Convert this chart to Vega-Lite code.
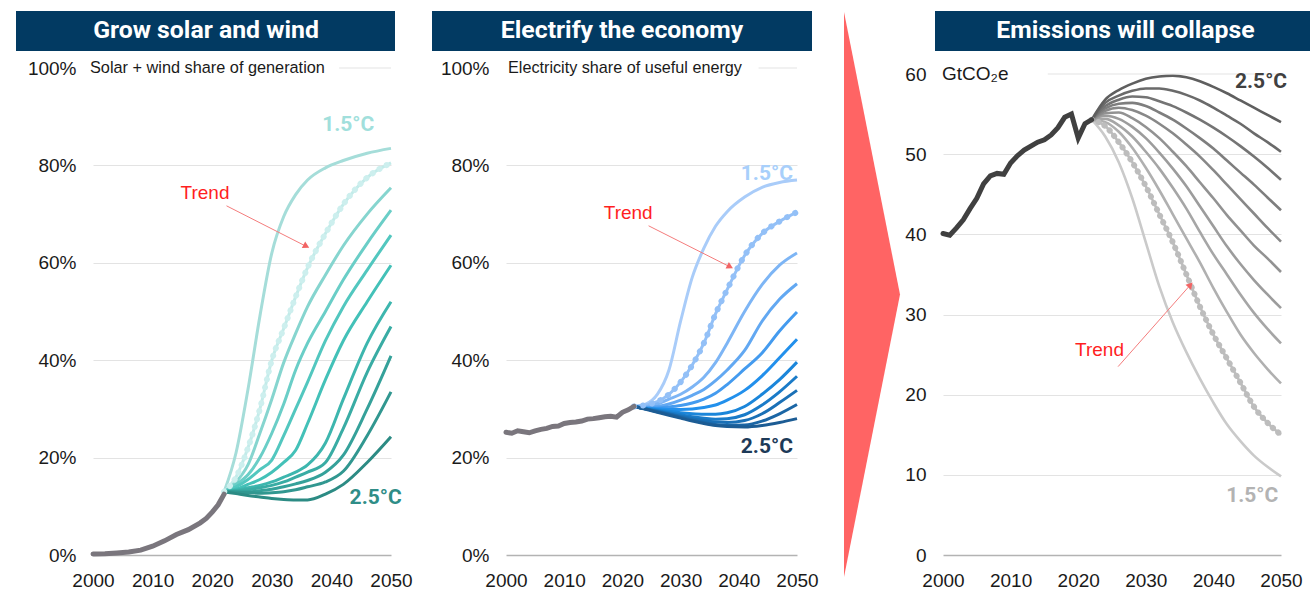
{
"$schema": "https://vega.github.io/schema/vega-lite/v6.json",
"padding": {"left": 16, "top": 11, "right": 0, "bottom": 0},
"background": "white",
"config": {"view": {"stroke": null}, "font": "Liberation Sans"},
"datasets": {
"tri": [{"t": 0, "lo": 0, "hi": 1}, {"t": 1, "lo": 0.5, "hi": 0.5}],
"s1": [
{"yr":2022,"c15":13,"trend":13,"c17":13,"c18":13,"c19":13,"c20":13,"c21":13,"c22":13,"c23":13,"c24":13,"c25":13},
{"yr":2024,"c15":21,"trend":16,"c17":15,"c18":14.5,"c19":14,"c20":13.5,"c21":13.3,"c22":13.2,"c23":13,"c24":12.9,"c25":12.6},
{"yr":2026,"c15":34,"trend":22,"c17":18.5,"c18":16.5,"c19":15.5,"c20":14.5,"c21":13.8,"c22":13.4,"c23":13,"c24":12.8,"c25":12.2},
{"yr":2028,"c15":49,"trend":30,"c17":25,"c18":20,"c19":17.5,"c20":15.5,"c21":14.3,"c22":13.8,"c23":13.2,"c24":12.7,"c25":11.9},
{"yr":2030,"c15":62,"trend":40,"c17":32,"c18":25,"c19":19.5,"c20":17,"c21":15,"c22":14.3,"c23":13.5,"c24":12.8,"c25":11.6},
{"yr":2032,"c15":69.5,"trend":46.5,"c17":39.5,"c18":31,"c19":24.5,"c20":19,"c21":16,"c22":15,"c23":14,"c24":13,"c25":11.4},
{"yr":2034,"c15":74,"trend":53,"c17":45.5,"c18":38,"c19":30,"c20":21.5,"c21":17,"c22":16,"c23":14.6,"c24":13.4,"c25":11.3},
{"yr":2036,"c15":77,"trend":59,"c17":51,"c18":43.5,"c19":35.5,"c20":27,"c21":18.5,"c22":17,"c23":15.3,"c24":14,"c25":11.3},
{"yr":2039,"c15":79.5,"trend":66,"c17":57.5,"c18":50,"c19":44,"c20":36,"c21":23,"c22":19,"c23":17,"c24":15,"c25":12.5},
{"yr":2042,"c15":81,"trend":72,"c17":63.5,"c18":56.5,"c19":51,"c20":44,"c21":32,"c22":26,"c23":20.5,"c24":17.2,"c25":14.5},
{"yr":2046,"c15":82.5,"trend":77.5,"c17":70,"c18":64,"c19":58.5,"c20":52,"c21":43.5,"c22":37.5,"c23":30,"c24":24.5,"c25":19},
{"yr":2050,"c15":83.5,"trend":80.5,"c17":75.4,"c18":70.8,"c19":65.7,"c20":59.5,"c21":52,"c22":46.9,"c23":40.9,"c24":33.5,"c25":24.3}
],
"h1": [{"yr":2000,"v":0.2},{"yr":2002,"v":0.25},{"yr":2004,"v":0.4},{"yr":2006,"v":0.6},{"yr":2008,"v":1.0},{"yr":2010,"v":1.8},{"yr":2012,"v":2.9},{"yr":2014,"v":4.2},{"yr":2016,"v":5.2},{"yr":2018,"v":6.6},{"yr":2019,"v":7.5},{"yr":2020,"v":8.8},{"yr":2021,"v":10.3},{"yr":2022,"v":12.5}],
"s2": [
{"yr":2022,"c15":30.5,"trend":30.5,"c17":30.5,"c18":30.5,"c19":30.5,"c20":30.5,"c21":30.5,"c22":30.5,"c23":30.5,"c24":30.5,"c25":30.5},
{"yr":2024,"c15":31,"trend":30.8,"c17":30.5,"c18":30.3,"c19":30.2,"c20":30.1,"c21":30.1,"c22":30,"c23":30,"c24":30,"c25":29.9},
{"yr":2026,"c15":33,"trend":31.5,"c17":31,"c18":30.5,"c19":30.2,"c20":30,"c21":29.8,"c22":29.6,"c23":29.5,"c24":29.4,"c25":29.3},
{"yr":2028,"c15":38,"trend":33,"c17":32,"c18":31,"c19":30.4,"c20":29.9,"c21":29.5,"c22":29.2,"c23":29,"c24":28.9,"c25":28.7},
{"yr":2030,"c15":48,"trend":35.5,"c17":33,"c18":31.8,"c19":30.7,"c20":29.9,"c21":29.2,"c22":28.8,"c23":28.5,"c24":28.3,"c25":28.1},
{"yr":2032,"c15":57,"trend":39,"c17":34.5,"c18":32.8,"c19":31.2,"c20":30,"c21":29,"c22":28.4,"c23":28,"c24":27.7,"c25":27.5},
{"yr":2034,"c15":63,"trend":43.5,"c17":36.5,"c18":34,"c19":32,"c20":30.3,"c21":28.9,"c22":28.1,"c23":27.6,"c24":27.2,"c25":27},
{"yr":2036,"c15":67.5,"trend":49.5,"c17":39.5,"c18":35.8,"c19":33.2,"c20":30.8,"c21":28.9,"c22":27.9,"c23":27.3,"c24":26.8,"c25":26.6},
{"yr":2038,"c15":70.5,"trend":54.5,"c17":43.5,"c18":38,"c19":35,"c20":31.8,"c21":29.2,"c22":28,"c23":27.2,"c24":26.6,"c25":26.4},
{"yr":2041,"c15":73.5,"trend":61.5,"c17":50,"c18":42,"c19":38.2,"c20":33.8,"c21":30.5,"c22":28.8,"c23":27.6,"c24":26.7,"c25":26.3},
{"yr":2044,"c15":75.5,"trend":66,"c17":55.5,"c18":48,"c19":41.5,"c20":36.8,"c21":33,"c22":30.8,"c23":29,"c24":27.5,"c25":26.6},
{"yr":2047,"c15":76.5,"trend":68.5,"c17":59.5,"c18":52.5,"c19":46,"c20":40.5,"c21":36,"c22":33.5,"c23":31.3,"c24":29,"c25":27.2},
{"yr":2050,"c15":77,"trend":70.4,"c17":62,"c18":55.7,"c19":49.9,"c20":44.3,"c21":39.6,"c22":36.7,"c23":33.8,"c24":30.9,"c25":28}
],
"h2": [{"yr":2000,"v":25.2},{"yr":2001,"v":25.0},{"yr":2002,"v":25.5},{"yr":2003,"v":25.3},{"yr":2004,"v":25.1},{"yr":2005,"v":25.5},{"yr":2006,"v":25.8},{"yr":2007,"v":26.0},{"yr":2008,"v":26.4},{"yr":2009,"v":26.5},{"yr":2010,"v":27.0},{"yr":2011,"v":27.2},{"yr":2012,"v":27.3},{"yr":2013,"v":27.5},{"yr":2014,"v":27.9},{"yr":2015,"v":28.0},{"yr":2016,"v":28.2},{"yr":2017,"v":28.4},{"yr":2018,"v":28.5},{"yr":2019,"v":28.3},{"yr":2020,"v":29.3},{"yr":2021,"v":29.8},{"yr":2022,"v":30.5}],
"s3": [
{"yr":2022,"c15":54.3,"trend":54.3,"c17":54.3,"c18":54.3,"c19":54.3,"c20":54.3,"c21":54.3,"c22":54.3,"c23":54.3,"c24":54.3,"c25":54.3},
{"yr":2024,"c15":52.2,"trend":53.5,"c17":54.0,"c18":54.4,"c19":54.8,"c20":55.1,"c21":55.4,"c22":55.7,"c23":56.0,"c24":56.4,"c25":56.8},
{"yr":2026,"c15":49.0,"trend":51.5,"c17":52.8,"c18":53.6,"c19":54.4,"c20":55.2,"c21":55.8,"c22":56.3,"c23":56.8,"c24":57.3,"c25":58.0},
{"yr":2028,"c15":44.5,"trend":49.0,"c17":50.8,"c18":52.2,"c19":53.4,"c20":54.5,"c21":55.5,"c22":56.4,"c23":57.2,"c24":57.9,"c25":58.8},
{"yr":2030,"c15":39.0,"trend":46.0,"c17":48.3,"c18":50.3,"c19":52.0,"c20":53.4,"c21":54.8,"c22":56.0,"c23":57.1,"c24":58.2,"c25":59.4},
{"yr":2032,"c15":33.5,"trend":42.5,"c17":45.5,"c18":48.2,"c19":50.2,"c20":52.0,"c21":53.8,"c22":55.2,"c23":56.6,"c24":58.2,"c25":59.7},
{"yr":2034,"c15":29.0,"trend":39.0,"c17":42.5,"c18":45.8,"c19":48.2,"c20":50.3,"c21":52.6,"c22":54.3,"c23":56.0,"c24":57.9,"c25":59.8},
{"yr":2036,"c15":25.3,"trend":35.0,"c17":39.5,"c18":43.2,"c19":46.0,"c20":48.5,"c21":51.2,"c22":53.2,"c23":55.2,"c24":57.4,"c25":59.6},
{"yr":2038,"c15":22.0,"trend":31.0,"c17":36.5,"c18":40.3,"c19":43.5,"c20":46.5,"c21":49.7,"c22":52.0,"c23":54.3,"c24":56.7,"c25":59.1},
{"yr":2040,"c15":19.0,"trend":27.5,"c17":33.3,"c18":37.5,"c19":41.0,"c20":44.5,"c21":48.0,"c22":50.7,"c23":53.3,"c24":55.8,"c25":58.4},
{"yr":2042,"c15":16.3,"trend":24.5,"c17":30.3,"c18":35.0,"c19":38.5,"c20":42.4,"c21":46.2,"c22":49.2,"c23":52.2,"c24":54.8,"c25":57.6},
{"yr":2044,"c15":14.2,"trend":21.5,"c17":27.5,"c18":32.5,"c19":36.3,"c20":40.5,"c21":44.4,"c22":47.7,"c23":51.0,"c24":53.8,"c25":56.7},
{"yr":2046,"c15":12.4,"trend":18.5,"c17":25.2,"c18":30.2,"c19":34.3,"c20":38.6,"c21":42.6,"c22":46.2,"c23":49.7,"c24":52.6,"c25":55.8},
{"yr":2048,"c15":11.0,"trend":16.5,"c17":23.2,"c18":28.2,"c19":32.5,"c20":37.0,"c21":40.8,"c22":44.6,"c23":48.3,"c24":51.5,"c25":54.9},
{"yr":2050,"c15":9.8,"trend":15.0,"c17":21.4,"c18":26.4,"c19":30.8,"c20":35.3,"c21":39.1,"c22":43.0,"c23":46.8,"c24":50.3,"c25":54.0}
],
"h3": [{"yr":2000,"v":40.1},{"yr":2001,"v":39.9},{"yr":2002,"v":40.8},{"yr":2003,"v":41.8},{"yr":2004,"v":43.2},{"yr":2005,"v":44.5},{"yr":2006,"v":46.3},{"yr":2007,"v":47.3},{"yr":2008,"v":47.6},{"yr":2009,"v":47.5},{"yr":2010,"v":48.9},{"yr":2011,"v":49.8},{"yr":2012,"v":50.5},{"yr":2013,"v":51.0},{"yr":2014,"v":51.5},{"yr":2015,"v":51.8},{"yr":2016,"v":52.4},{"yr":2017,"v":53.3},{"yr":2018,"v":54.6},{"yr":2019,"v":55.0},{"yr":2020,"v":52.0},{"yr":2021,"v":53.8},{"yr":2022,"v":54.3}]
},
"columns": 13,
"align": "each",
"bounds": "flush",
"spacing": {"row": 17, "column": 0},
"resolve": {"scale": {"color": "independent"}},
"concat": [
{"width": 77, "height": 40, "data": {"values": [{}]}, "mark": {"type": "rect", "color": "#023A62"}, "encoding": {}},
{"width": 298, "height": 40, "data": {"values": [{}]},
 "layer": [
  {"mark": {"type": "rect", "color": "#023A62"}, "encoding": {}},
  {"mark": {"type": "text", "text": "Grow solar and wind", "color": "white", "font": "Roboto", "fontWeight": "bold", "fontSize": 24.8, "dx": -36}, "encoding": {}}
 ]},
{"width": 4, "height": 40, "data": {"values": [{}]}, "mark": {"type": "rect", "color": "#023A62"}, "encoding": {}},
{"width": 37, "height": 40, "data": {"values": [{}]}, "mark": {"type": "rect", "opacity": 0}, "encoding": {}},
{"width": 74, "height": 40, "data": {"values": [{}]}, "mark": {"type": "rect", "color": "#023A62"}, "encoding": {}},
{"width": 291, "height": 40, "data": {"values": [{}]},
 "layer": [
  {"mark": {"type": "rect", "color": "#023A62"}, "encoding": {}},
  {"mark": {"type": "text", "text": "Electrify the economy", "color": "white", "font": "Roboto", "fontWeight": "bold", "fontSize": 24.8, "dx": -29.5}, "encoding": {}}
 ]},
{"width": 15, "height": 40, "data": {"values": [{}]}, "mark": {"type": "rect", "color": "#023A62"}, "encoding": {}},
{"width": 32, "height": 40, "data": {"values": [{}]}, "mark": {"type": "rect", "opacity": 0}, "encoding": {}},
{"width": 56, "height": 40, "data": {"values": [{}]}, "mark": {"type": "rect", "opacity": 0}, "encoding": {}},
{"width": 35, "height": 40, "data": {"values": [{}]}, "mark": {"type": "rect", "opacity": 0}, "encoding": {}},
{"width": 8, "height": 40, "data": {"values": [{}]}, "mark": {"type": "rect", "color": "#023A62"}, "encoding": {}},
{"width": 338, "height": 40, "data": {"values": [{}]},
 "layer": [
  {"mark": {"type": "rect", "color": "#023A62"}, "encoding": {}},
  {"mark": {"type": "text", "text": "Emissions will collapse", "color": "white", "font": "Roboto", "fontWeight": "bold", "fontSize": 24.8, "dx": 13.5}, "encoding": {}}
 ]},
{"width": 29, "height": 40, "data": {"values": [{}]}, "mark": {"type": "rect", "color": "#023A62"}, "encoding": {}},

{"width": 77, "height": 487, "data": {"values": [{}]}, "mark": {"type": "rect", "opacity": 0}, "encoding": {}},
{"width": 298, "height": 487,
 "layer": [
  {"data": {"name": "s1"}, "transform": [{"fold": ["c15","trend","c17","c18","c19","c20","c21","c22","c23","c24","c25"], "as": ["s", "v"]}],
   "mark": {"type": "line", "strokeWidth": 3, "interpolate": "monotone"},
   "encoding": {
    "x": {"field": "yr", "type": "quantitative", "scale": {"domain": [2000, 2050], "nice": false, "zero": false},
          "axis": {"values": [2000, 2010, 2020, 2030, 2040, 2050], "format": "d", "title": null, "grid": false, "ticks": false, "tickSize": 0, "domainColor": "#B3B3B3", "domainWidth": 1.5, "labelFontSize": 19, "labelPadding": 16, "labelColor": "#1a1a1a", "labelFont": "Liberation Sans", "labelFlush": false}},
    "y": {"field": "v", "type": "quantitative", "scale": {"domain": [0, 100], "nice": false},
          "axis": {"values": [0, 20, 40, 60, 80, 100], "labelExpr": "datum.value + '%'", "title": null, "grid": true, "gridColor": "#E3E3E3", "gridOpacity": {"condition": {"test": "datum.value === 100 || datum.value === 0", "value": 0}, "value": 1}, "domain": false, "ticks": false, "tickSize": 0, "labelFontSize": 19, "labelPadding": 17, "labelColor": "#1a1a1a", "labelFont": "Liberation Sans"}},
    "color": {"field": "s", "type": "nominal", "scale": {"domain": ["c15","trend","c17","c18","c19","c20","c21","c22","c23","c24","c25"], "range": ["#A5DDD9","#C2EBE9","#86D5CF","#6ACEC7","#52C7BF","#43C1B8","#3DB6AE","#39ACA4","#35A19A","#319790","#2C8B84"]}, "legend": null}
   }},
  {"data": {"values": [{"a": 2041.3, "b": 2050, "v": 100}]}, "mark": {"type": "rule", "color": "#E3E3E3", "strokeWidth": 1},
   "encoding": {"x": {"field": "a", "type": "quantitative", "scale": {"domain": [2000, 2050], "nice": false, "zero": false}}, "x2": {"field": "b"}, "y": {"field": "v", "type": "quantitative", "scale": {"domain": [0, 100], "nice": false}}}},
  {"data": {"name": "s1"}, "mark": {"type": "line", "strokeWidth": 6, "strokeCap": "round", "strokeDash": [0.1, 8], "interpolate": "monotone", "color": "#CDEFEE"},
   "encoding": {"x": {"field": "yr", "type": "quantitative", "scale": {"domain": [2000, 2050], "nice": false, "zero": false}}, "y": {"field": "trend", "type": "quantitative", "scale": {"domain": [0, 100], "nice": false}}}},
  {"data": {"name": "h1"}, "mark": {"type": "line", "strokeWidth": 5, "strokeCap": "round", "color": "#7A767D"},
   "encoding": {"x": {"field": "yr", "type": "quantitative", "scale": {"domain": [2000, 2050], "nice": false, "zero": false}}, "y": {"field": "v", "type": "quantitative", "scale": {"domain": [0, 100], "nice": false}}}},
  {"data": {"values": [{}]}, "mark": {"type": "text", "text": "Solar + wind share of generation", "align": "left", "baseline": "middle", "fontSize": 16.3, "font": "Liberation Sans", "color": "#1a1a1a", "dx": -3},
   "encoding": {"x": {"datum": 2000, "type": "quantitative", "scale": {"domain": [2000, 2050], "nice": false, "zero": false}}, "y": {"datum": 100, "type": "quantitative", "scale": {"domain": [0, 100], "nice": false}}}},
  {"data": {"values": [{}]}, "mark": {"type": "text", "text": "1.5°C", "align": "right", "baseline": "middle", "fontSize": 21, "font": "Roboto", "fontWeight": "bold", "color": "#A1DFDC"},
   "encoding": {"x": {"datum": 2047.2, "type": "quantitative", "scale": {"domain": [2000, 2050], "nice": false, "zero": false}}, "y": {"datum": 88.3, "type": "quantitative", "scale": {"domain": [0, 100], "nice": false}}}},
  {"data": {"values": [{}]}, "mark": {"type": "text", "text": "2.5°C", "align": "right", "baseline": "middle", "fontSize": 21, "font": "Roboto", "fontWeight": "bold", "color": "#2F8D87"},
   "encoding": {"x": {"datum": 2051.8, "type": "quantitative", "scale": {"domain": [2000, 2050], "nice": false, "zero": false}}, "y": {"datum": 11.8, "type": "quantitative", "scale": {"domain": [0, 100], "nice": false}}}},
  {"data": {"values": [{}]}, "mark": {"type": "text", "text": "Trend", "align": "center", "baseline": "middle", "fontSize": 19, "font": "Liberation Sans", "color": "#FF1F1F"},
   "encoding": {"x": {"datum": 2018.8, "type": "quantitative", "scale": {"domain": [2000, 2050], "nice": false, "zero": false}}, "y": {"datum": 74.3, "type": "quantitative", "scale": {"domain": [0, 100], "nice": false}}}},
  {"data": {"values": [{}]}, "mark": {"type": "rule", "color": "#F47C7C", "strokeWidth": 1},
   "encoding": {"x": {"datum": 2022.4, "type": "quantitative", "scale": {"domain": [2000, 2050], "nice": false, "zero": false}}, "y": {"datum": 71.7, "type": "quantitative", "scale": {"domain": [0, 100], "nice": false}}, "x2": {"datum": 2035.9}, "y2": {"datum": 63.3}}},
  {"data": {"values": [{}]}, "mark": {"type": "point", "shape": "triangle-right", "filled": true, "size": 55, "angle": 26.8, "color": "#F26464", "opacity": 1},
   "encoding": {"x": {"datum": 2035.8, "type": "quantitative", "scale": {"domain": [2000, 2050], "nice": false, "zero": false}}, "y": {"datum": 63.4, "type": "quantitative", "scale": {"domain": [0, 100], "nice": false}}}}
 ]},
{"width": 4, "height": 487, "data": {"values": [{}]}, "mark": {"type": "rect", "opacity": 0}, "encoding": {}},
{"width": 37, "height": 487, "data": {"values": [{}]}, "mark": {"type": "rect", "opacity": 0}, "encoding": {}},
{"width": 74, "height": 487, "data": {"values": [{}]}, "mark": {"type": "rect", "opacity": 0}, "encoding": {}},
{"width": 291, "height": 487,
 "layer": [
  {"data": {"name": "s2"}, "transform": [{"fold": ["c15","trend","c17","c18","c19","c20","c21","c22","c23","c24","c25"], "as": ["s", "v"]}],
   "mark": {"type": "line", "strokeWidth": 3, "interpolate": "monotone"},
   "encoding": {
    "x": {"field": "yr", "type": "quantitative", "scale": {"domain": [2000, 2050], "nice": false, "zero": false},
          "axis": {"values": [2000, 2010, 2020, 2030, 2040, 2050], "format": "d", "title": null, "grid": false, "ticks": false, "tickSize": 0, "domainColor": "#B3B3B3", "domainWidth": 1.5, "labelFontSize": 19, "labelPadding": 16, "labelColor": "#1a1a1a", "labelFont": "Liberation Sans", "labelFlush": false}},
    "y": {"field": "v", "type": "quantitative", "scale": {"domain": [0, 100], "nice": false},
          "axis": {"values": [0, 20, 40, 60, 80, 100], "labelExpr": "datum.value + '%'", "title": null, "grid": true, "gridColor": "#E3E3E3", "gridOpacity": {"condition": {"test": "datum.value === 100 || datum.value === 0", "value": 0}, "value": 1}, "domain": false, "ticks": false, "tickSize": 0, "labelFontSize": 19, "labelPadding": 17, "labelColor": "#1a1a1a", "labelFont": "Liberation Sans"}},
    "color": {"field": "s", "type": "nominal", "scale": {"domain": ["c15","trend","c17","c18","c19","c20","c21","c22","c23","c24","c25"], "range": ["#A9CCF9","#93C0F7","#7DB5F5","#62A8F2","#449BEF","#2290EC","#1B86DA","#1A7BC8","#1A70B6","#1B66A5","#1C5C94"]}, "legend": null}
   }},
  {"data": {"values": [{"a": 2043.4, "b": 2050, "v": 100}]}, "mark": {"type": "rule", "color": "#E3E3E3", "strokeWidth": 1},
   "encoding": {"x": {"field": "a", "type": "quantitative", "scale": {"domain": [2000, 2050], "nice": false, "zero": false}}, "x2": {"field": "b"}, "y": {"field": "v", "type": "quantitative", "scale": {"domain": [0, 100], "nice": false}}}},
  {"data": {"name": "s2"}, "mark": {"type": "line", "strokeWidth": 6, "strokeCap": "round", "strokeDash": [0.1, 9], "interpolate": "monotone", "color": "#93C0F7"},
   "encoding": {"x": {"field": "yr", "type": "quantitative", "scale": {"domain": [2000, 2050], "nice": false, "zero": false}}, "y": {"field": "trend", "type": "quantitative", "scale": {"domain": [0, 100], "nice": false}}}},
  {"data": {"name": "h2"}, "mark": {"type": "line", "strokeWidth": 5, "strokeCap": "round", "color": "#7A767D"},
   "encoding": {"x": {"field": "yr", "type": "quantitative", "scale": {"domain": [2000, 2050], "nice": false, "zero": false}}, "y": {"field": "v", "type": "quantitative", "scale": {"domain": [0, 100], "nice": false}}}},
  {"data": {"values": [{}]}, "mark": {"type": "text", "text": "Electricity share of useful energy", "align": "left", "baseline": "middle", "fontSize": 16.2, "font": "Liberation Sans", "color": "#1a1a1a", "dx": 2},
   "encoding": {"x": {"datum": 2000, "type": "quantitative", "scale": {"domain": [2000, 2050], "nice": false, "zero": false}}, "y": {"datum": 100, "type": "quantitative", "scale": {"domain": [0, 100], "nice": false}}}},
  {"data": {"values": [{}]}, "mark": {"type": "text", "text": "1.5°C", "align": "right", "baseline": "middle", "fontSize": 21, "font": "Roboto", "fontWeight": "bold", "color": "#A8CFFB"},
   "encoding": {"x": {"datum": 2049.3, "type": "quantitative", "scale": {"domain": [2000, 2050], "nice": false, "zero": false}}, "y": {"datum": 78.3, "type": "quantitative", "scale": {"domain": [0, 100], "nice": false}}}},
  {"data": {"values": [{}]}, "mark": {"type": "text", "text": "2.5°C", "align": "right", "baseline": "middle", "fontSize": 21, "font": "Roboto", "fontWeight": "bold", "color": "#1D3A58"},
   "encoding": {"x": {"datum": 2049.3, "type": "quantitative", "scale": {"domain": [2000, 2050], "nice": false, "zero": false}}, "y": {"datum": 22.2, "type": "quantitative", "scale": {"domain": [0, 100], "nice": false}}}},
  {"data": {"values": [{}]}, "mark": {"type": "text", "text": "Trend", "align": "center", "baseline": "middle", "fontSize": 19, "font": "Liberation Sans", "color": "#FF1F1F"},
   "encoding": {"x": {"datum": 2021.0, "type": "quantitative", "scale": {"domain": [2000, 2050], "nice": false, "zero": false}}, "y": {"datum": 70.3, "type": "quantitative", "scale": {"domain": [0, 100], "nice": false}}}},
  {"data": {"values": [{}]}, "mark": {"type": "rule", "color": "#F47C7C", "strokeWidth": 1},
   "encoding": {"x": {"datum": 2024.5, "type": "quantitative", "scale": {"domain": [2000, 2050], "nice": false, "zero": false}}, "y": {"datum": 67.6, "type": "quantitative", "scale": {"domain": [0, 100], "nice": false}}, "x2": {"datum": 2038.6}, "y2": {"datum": 59.1}}},
  {"data": {"values": [{}]}, "mark": {"type": "point", "shape": "triangle-right", "filled": true, "size": 55, "angle": 26.8, "color": "#F26464", "opacity": 1},
   "encoding": {"x": {"datum": 2038.5, "type": "quantitative", "scale": {"domain": [2000, 2050], "nice": false, "zero": false}}, "y": {"datum": 59.2, "type": "quantitative", "scale": {"domain": [0, 100], "nice": false}}}}
 ]},
{"width": 15, "height": 487, "data": {"values": [{}]}, "mark": {"type": "rect", "opacity": 0}, "encoding": {}},
{"width": 32, "height": 487, "data": {"values": [{}]}, "mark": {"type": "rect", "opacity": 0}, "encoding": {}},
{"width": 56, "height": 487, "data": {"name": "tri"},
 "mark": {"type": "area", "color": "#FF6464", "interpolate": "linear"},
 "encoding": {
  "x": {"field": "t", "type": "quantitative", "scale": {"domain": [0, 1], "nice": false, "zero": false}, "axis": null},
  "y": {"field": "lo", "type": "quantitative", "scale": {"domain": [0.0389, 0.9009], "nice": false, "zero": false}, "axis": null},
  "y2": {"field": "hi"}
 }},
{"width": 35, "height": 487, "data": {"values": [{}]}, "mark": {"type": "rect", "opacity": 0}, "encoding": {}},
{"width": 8, "height": 487, "data": {"values": [{}]}, "mark": {"type": "rect", "opacity": 0}, "encoding": {}},
{"width": 338, "height": 487,
 "layer": [
  {"data": {"name": "s3"}, "transform": [{"fold": ["c15","trend","c17","c18","c19","c20","c21","c22","c23","c24","c25"], "as": ["s", "v"]}],
   "mark": {"type": "line", "strokeWidth": 2.6, "interpolate": "monotone"},
   "encoding": {
    "x": {"field": "yr", "type": "quantitative", "scale": {"domain": [2000, 2050], "nice": false, "zero": false},
          "axis": {"values": [2000, 2010, 2020, 2030, 2040, 2050], "format": "d", "title": null, "grid": false, "ticks": false, "tickSize": 0, "domainColor": "#B3B3B3", "domainWidth": 1.5, "labelFontSize": 19, "labelPadding": 16, "labelColor": "#1a1a1a", "labelFont": "Liberation Sans", "labelFlush": false}},
    "y": {"field": "v", "type": "quantitative", "scale": {"domain": [0, 60.75], "nice": false},
          "axis": {"values": [0, 10, 20, 30, 40, 50, 60], "title": null, "grid": true, "gridColor": "#E3E3E3", "gridOpacity": {"condition": {"test": "datum.value === 60 || datum.value === 0", "value": 0}, "value": 1}, "domain": false, "ticks": false, "tickSize": 0, "labelFontSize": 19, "labelPadding": 17, "labelColor": "#1a1a1a", "labelFont": "Liberation Sans"}},
    "color": {"field": "s", "type": "nominal", "scale": {"domain": ["c15","trend","c17","c18","c19","c20","c21","c22","c23","c24","c25"], "range": ["#CACACA","#BDBDBD","#B0B0B0","#A6A6A6","#9C9C9C","#929292","#888888","#7E7E7E","#747474","#6A6A6A","#5F5F5F"]}, "legend": null}
   }},
  {"data": {"values": [{"a": 2015.5, "b": 2050, "v": 60}]}, "mark": {"type": "rule", "color": "#E3E3E3", "strokeWidth": 1},
   "encoding": {"x": {"field": "a", "type": "quantitative", "scale": {"domain": [2000, 2050], "nice": false, "zero": false}}, "x2": {"field": "b"}, "y": {"field": "v", "type": "quantitative", "scale": {"domain": [0, 60.75], "nice": false}}}},
  {"data": {"name": "s3"}, "mark": {"type": "line", "strokeWidth": 6, "strokeCap": "round", "strokeDash": [0.1, 7], "interpolate": "monotone", "color": "#BDBDBD"},
   "encoding": {"x": {"field": "yr", "type": "quantitative", "scale": {"domain": [2000, 2050], "nice": false, "zero": false}}, "y": {"field": "trend", "type": "quantitative", "scale": {"domain": [0, 60.75], "nice": false}}}},
  {"data": {"name": "h3"}, "mark": {"type": "line", "strokeWidth": 5, "strokeCap": "round", "color": "#404040"},
   "encoding": {"x": {"field": "yr", "type": "quantitative", "scale": {"domain": [2000, 2050], "nice": false, "zero": false}}, "y": {"field": "v", "type": "quantitative", "scale": {"domain": [0, 60.75], "nice": false}}}},
  {"data": {"values": [{}]}, "mark": {"type": "text", "text": "GtCO₂e", "align": "left", "baseline": "middle", "fontSize": 19, "font": "Liberation Sans", "color": "#1a1a1a", "dx": -1},
   "encoding": {"x": {"datum": 2000, "type": "quantitative", "scale": {"domain": [2000, 2050], "nice": false, "zero": false}}, "y": {"datum": 60, "type": "quantitative", "scale": {"domain": [0, 60.75], "nice": false}}}},
  {"data": {"values": [{}]}, "mark": {"type": "text", "text": "2.5°C", "align": "right", "baseline": "middle", "fontSize": 21, "font": "Roboto", "fontWeight": "bold", "color": "#404040"},
   "encoding": {"x": {"datum": 2050.9, "type": "quantitative", "scale": {"domain": [2000, 2050], "nice": false, "zero": false}}, "y": {"datum": 59.0, "type": "quantitative", "scale": {"domain": [0, 60.75], "nice": false}}}},
  {"data": {"values": [{}]}, "mark": {"type": "text", "text": "1.5°C", "align": "right", "baseline": "middle", "fontSize": 21, "font": "Roboto", "fontWeight": "bold", "color": "#B3B3B3"},
   "encoding": {"x": {"datum": 2049.6, "type": "quantitative", "scale": {"domain": [2000, 2050], "nice": false, "zero": false}}, "y": {"datum": 7.36, "type": "quantitative", "scale": {"domain": [0, 60.75], "nice": false}}}},
  {"data": {"values": [{}]}, "mark": {"type": "text", "text": "Trend", "align": "center", "baseline": "middle", "fontSize": 19, "font": "Liberation Sans", "color": "#FF1F1F"},
   "encoding": {"x": {"datum": 2023.15, "type": "quantitative", "scale": {"domain": [2000, 2050], "nice": false, "zero": false}}, "y": {"datum": 25.6, "type": "quantitative", "scale": {"domain": [0, 60.75], "nice": false}}}},
  {"data": {"values": [{}]}, "mark": {"type": "rule", "color": "#F47C7C", "strokeWidth": 1},
   "encoding": {"x": {"datum": 2025.9, "type": "quantitative", "scale": {"domain": [2000, 2050], "nice": false, "zero": false}}, "y": {"datum": 23.5, "type": "quantitative", "scale": {"domain": [0, 60.75], "nice": false}}, "x2": {"datum": 2036.6}, "y2": {"datum": 33.7}}},
  {"data": {"values": [{}]}, "mark": {"type": "point", "shape": "triangle-right", "filled": true, "size": 55, "angle": -48.6, "color": "#F26464", "opacity": 1},
   "encoding": {"x": {"datum": 2036.6, "type": "quantitative", "scale": {"domain": [2000, 2050], "nice": false, "zero": false}}, "y": {"datum": 33.7, "type": "quantitative", "scale": {"domain": [0, 60.75], "nice": false}}}}
 ]},
{"width": 29, "height": 487, "data": {"values": [{}]}, "mark": {"type": "rect", "opacity": 0}, "encoding": {}}
]
}
